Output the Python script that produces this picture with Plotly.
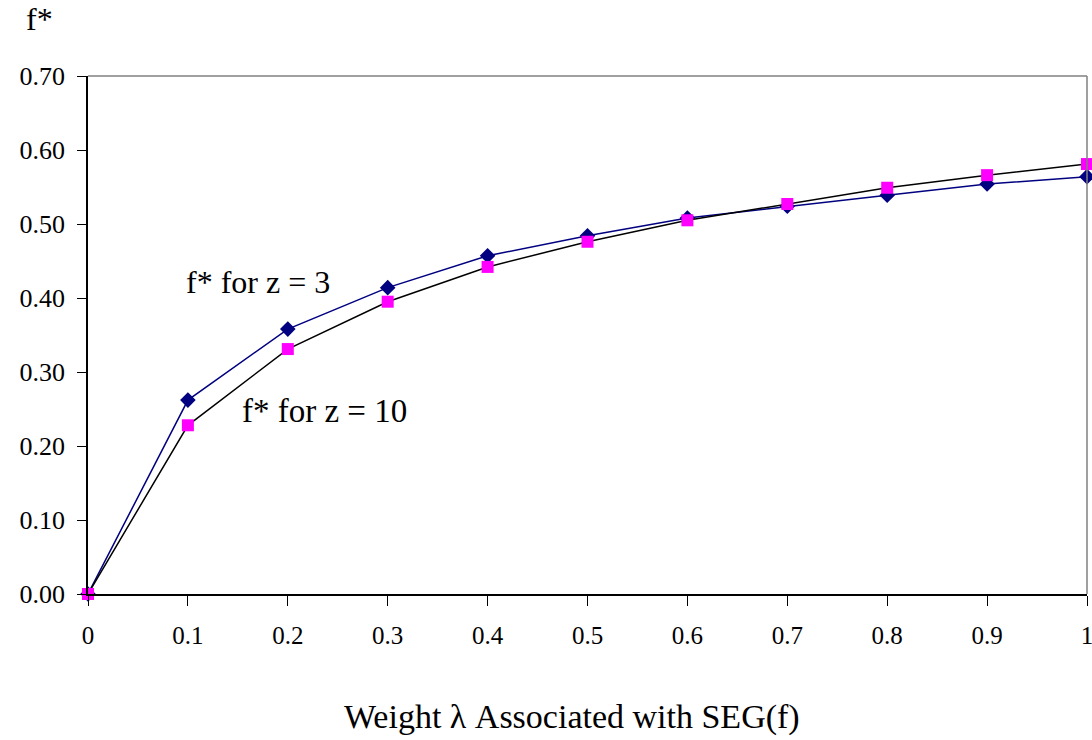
import plotly.graph_objects as go

lam = [0, 0.1, 0.2, 0.3, 0.4, 0.5, 0.6, 0.7, 0.8, 0.9, 1.0]
f_z3 = [0.0, 0.262, 0.358, 0.414, 0.457, 0.484, 0.508, 0.524, 0.539, 0.554, 0.564]
f_z10 = [0.0, 0.228, 0.331, 0.395, 0.442, 0.476, 0.505, 0.527, 0.549, 0.566, 0.581]
x_ticks = [0, 0.1, 0.2, 0.3, 0.4, 0.5, 0.6, 0.7, 0.8, 0.9, 1.0]
x_tick_text = ["0", "0.1", "0.2", "0.3", "0.4", "0.5", "0.6", "0.7", "0.8", "0.9", "1"]
y_ticks = [0, 0.1, 0.2, 0.3, 0.4, 0.5, 0.6, 0.7]
y_tick_text = ["0.00", "0.10", "0.20", "0.30", "0.40", "0.50", "0.60", "0.70"]

FONT = "Liberation Serif, Times New Roman, serif"

fig = go.Figure()
fig.add_trace(go.Scatter(
    x=lam, y=f_z3, mode="lines+markers", name="z = 3",
    line=dict(color="#000080", width=1.5),
    marker=dict(symbol="diamond", size=12, color="#000080"),
    cliponaxis=False,
))
fig.add_trace(go.Scatter(
    x=lam, y=f_z10, mode="lines+markers", name="z = 10",
    line=dict(color="#000000", width=1.5),
    marker=dict(symbol="square", size=12, color="#FF00FF"),
    cliponaxis=False,
))

fig.update_layout(
    width=1092, height=740,
    margin=dict(l=88, r=5, t=76, b=146),
    paper_bgcolor="white", plot_bgcolor="white",
    showlegend=False,
    font=dict(family=FONT, size=25, color="black"),
    xaxis=dict(
        range=[0, 1], tickvals=x_ticks, ticktext=x_tick_text,
        ticks="outside", ticklen=10, tickcolor="black", tickwidth=1,
        showline=True, linecolor="black", linewidth=1.5, mirror=False,
        showgrid=False, zeroline=False, ticklabeloverflow="allow",
        ticklabelstandoff=8, automargin=False,
        tickfont=dict(family=FONT, size=25),
    ),
    yaxis=dict(
        range=[0, 0.7], tickvals=y_ticks, ticktext=y_tick_text,
        ticks="outside", ticklen=9, tickcolor="black", tickwidth=1,
        showline=True, linecolor="black", linewidth=1.5,
        showgrid=False, zeroline=False, ticklabelstandoff=7, automargin=False,
        tickfont=dict(family=FONT, size=26),
    ),
    shapes=[
        dict(type="line", xref="paper", yref="paper", x0=0, x1=1, y0=1, y1=1,
             line=dict(color="#808080", width=1.5)),
        dict(type="line", xref="paper", yref="paper", x0=1, x1=1, y0=0, y1=1,
             line=dict(color="#808080", width=1.5)),
    ],
    annotations=[
        dict(text="f*", xref="paper", yref="paper", x=-0.064, y=1.11,
             xanchor="left", yanchor="middle", showarrow=False,
             font=dict(family=FONT, size=32)),
        dict(text="Weight λ Associated with SEG(f)", xref="paper", yref="paper",
             x=0.484, y=-0.237, xanchor="center", yanchor="middle", showarrow=False,
             font=dict(family=FONT, size=34)),
        dict(text="f* for z = 3", xref="x", yref="y", x=0.096, y=0.421,
             xanchor="left", yanchor="middle", showarrow=False,
             font=dict(family=FONT, size=32)),
        dict(text="f* for z = 10", xref="x", yref="y", x=0.152, y=0.247,
             xanchor="left", yanchor="middle", showarrow=False,
             font=dict(family=FONT, size=33)),
    ],
)

fig.write_html("out.html", config={"displayModeBar": False},
               post_script="document.body.style.margin='0';document.body.style.overflow='hidden';")
